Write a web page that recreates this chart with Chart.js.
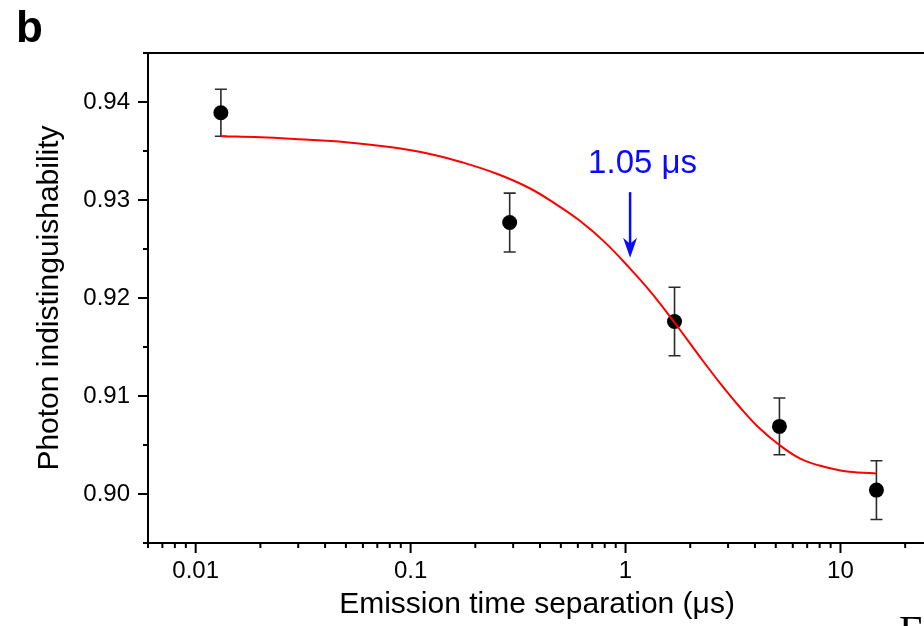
<!DOCTYPE html>
<html>
<head>
<meta charset="utf-8">
<script src="https://cdn.jsdelivr.net/npm/chart.js@4.4.1/dist/chart.umd.min.js"></script>
<style>
html, body { margin: 0; padding: 0; overflow: hidden; background: #fff; }
#wrap { position: relative; width: 940px; height: 626px; }
#fig { position: absolute; left: 899px; top: 610px; font: 42px 'Liberation Serif', 'DejaVu Serif', serif; line-height: 42px; color: #000; white-space: nowrap; }
</style>
</head>
<body>
<div id="wrap">
    <canvas id="chart"></canvas>
    <div id="fig">Fig.</div>
</div>
<script>
// Theme
const COLORS = {
    axis: '#000000',
    fit: '#ff0000',
    point: '#000000',
    err: '#2b2b2b',
    note: '#0a0aff'
};
const FONT = "'Liberation Sans', Arial, sans-serif";

// Axis ticks
const xMajorTicks = [0.01, 0.1, 1, 10];
const xTickLabels = ['0.01', '0.1', '1', '10'];
const xMinorTicks = [0.006, 0.007, 0.008, 0.009,
    0.02, 0.03, 0.04, 0.05, 0.06, 0.07, 0.08, 0.09,
    0.2, 0.3, 0.4, 0.5, 0.6, 0.7, 0.8, 0.9,
    2, 3, 4, 5, 6, 7, 8, 9, 20];
const yMajorTicks = [0.90, 0.91, 0.92, 0.93, 0.94];
const yTickLabels = ['0.90', '0.91', '0.92', '0.93', '0.94'];
const yMinorTicks = [0.895, 0.905, 0.915, 0.925, 0.935, 0.945];

// Measured points (emission time separation in us)
const ptX = [0.0131, 0.289, 1.69, 5.2, 14.7];
const ptY = [0.9389, 0.9277, 0.9176, 0.9069, 0.9004];
const ptErr = [0.0024, 0.0030, 0.0035, 0.0029, 0.0030];

// Fitted curve
const fitX = [0.0131, 0.02, 0.03, 0.05, 0.08, 0.123, 0.17, 0.25, 0.358, 0.48, 0.611, 0.8, 1.04, 1.3, 1.69,
    2.2, 2.8, 3.39, 4.2, 5.2, 6.5, 7.98, 10, 12, 14.7];
const fitY = [0.9365, 0.9364, 0.9362, 0.9359, 0.9354, 0.9347, 0.9339, 0.9327, 0.9312, 0.9295, 0.9279, 0.9257, 0.9231, 0.9207, 0.9175,
    0.9141, 0.9111, 0.9089, 0.9067, 0.9050, 0.9036, 0.9029, 0.9024, 0.9022, 0.9021];

// Annotation
const noteText = '1.05 μs';
const noteX = 1.2;
const noteY = 0.9328;
const arrowX = 1.05;
const arrowFrom = 0.9308;
const arrowTo = 0.9241;

const errorBars = {
    id: 'errorBars',
    beforeDatasetsDraw(chart) {
        const { ctx, scales: { x, y } } = chart;
        ctx.save();
        ctx.strokeStyle = COLORS.err;
        ctx.lineWidth = 1.6;
        ctx.beginPath();
        ptX.forEach((v, i) => {
            const px = x.getPixelForValue(v);
            const top = y.getPixelForValue(ptY[i] + ptErr[i]);
            const bot = y.getPixelForValue(ptY[i] - ptErr[i]);
            ctx.moveTo(px, top); ctx.lineTo(px, bot);
            ctx.moveTo(px - 6, top); ctx.lineTo(px + 6, top);
            ctx.moveTo(px - 6, bot); ctx.lineTo(px + 6, bot);
        });
        ctx.stroke();
        ctx.restore();
    }
};

const frame = {
    id: 'frame',
    afterDraw(chart) {
        const { ctx, chartArea: a, scales: { x, y } } = chart;
        ctx.save();
        ctx.strokeStyle = COLORS.axis;
        ctx.lineWidth = 2;
        ctx.beginPath();
        // top spine
        ctx.moveTo(a.left - 5, a.top); ctx.lineTo(a.right, a.top);
        xMajorTicks.forEach(v => {
            const px = x.getPixelForValue(v);
            ctx.moveTo(px, a.bottom); ctx.lineTo(px, a.bottom + 10);
        });
        xMinorTicks.forEach(v => {
            const px = x.getPixelForValue(v);
            ctx.moveTo(px, a.bottom); ctx.lineTo(px, a.bottom + 5);
        });
        yMajorTicks.forEach(v => {
            const py = y.getPixelForValue(v);
            ctx.moveTo(a.left, py); ctx.lineTo(a.left - 10, py);
        });
        yMinorTicks.forEach(v => {
            const py = y.getPixelForValue(v);
            ctx.moveTo(a.left, py); ctx.lineTo(a.left - 5, py);
        });
        ctx.stroke();

        // panel letter
        ctx.fillStyle = '#000';
        ctx.font = 'bold 44px ' + FONT;
        ctx.textAlign = 'left';
        ctx.textBaseline = 'alphabetic';
        ctx.fillText('b', 16, 42);
        ctx.restore();
    }
};

const annotation = {
    id: 'annotation',
    afterDatasetsDraw(chart) {
        const { ctx, scales: { x, y } } = chart;
        ctx.save();
        ctx.fillStyle = COLORS.note;
        ctx.strokeStyle = COLORS.note;
        ctx.font = '33px ' + FONT;
        ctx.textAlign = 'center';
        ctx.textBaseline = 'alphabetic';
        ctx.fillText(noteText, x.getPixelForValue(noteX), y.getPixelForValue(noteY));

        const ax = x.getPixelForValue(arrowX);
        const top = y.getPixelForValue(arrowFrom);
        const tip = y.getPixelForValue(arrowTo);
        ctx.lineWidth = 2.5;
        ctx.beginPath();
        ctx.moveTo(ax, top); ctx.lineTo(ax, tip - 12);
        ctx.stroke();
        ctx.beginPath();
        ctx.moveTo(ax, tip);
        ctx.lineTo(ax - 7, tip - 20);
        ctx.lineTo(ax, tip - 14);
        ctx.lineTo(ax + 7, tip - 20);
        ctx.closePath();
        ctx.fill();
        ctx.restore();
    }
};

const ctx = document.getElementById('chart').getContext('2d');

new Chart(ctx, {
    type: 'scatter',
    data: {
        datasets: [
            {
                label: 'Fit',
                data: fitX.map((v, i) => ({ x: v, y: fitY[i] })),
                showLine: true,
                borderColor: COLORS.fit,
                borderWidth: 2,
                pointRadius: 0,
                tension: 0.4,
                order: 0
            },
            {
                label: 'Data',
                data: ptX.map((v, i) => ({ x: v, y: ptY[i] })),
                pointRadius: 7.5,
                backgroundColor: COLORS.point,
                borderColor: COLORS.point,
                borderWidth: 0,
                order: 1
            }
        ]
    },
    options: {
        responsive: true,
        maintainAspectRatio: false,
        animation: false,
        layout: { padding: { top: 53, right: 14, left: 0, bottom: 0 } },
        scales: {
            x: {
                type: 'logarithmic',
                min: 0.006,
                max: 25,
                bounds: 'data',
                grid: { display: false, drawTicks: false },
                border: { display: true, color: COLORS.axis, width: 2 },
                afterBuildTicks: scale => { scale.ticks = xMajorTicks.map(v => ({ value: v })); },
                afterFit: scale => { scale.height = 83; },
                ticks: {
                    autoSkip: false,
                    maxRotation: 0,
                    padding: 14,
                    color: '#000',
                    font: { family: FONT, size: 24 },
                    callback: (value, index) => xTickLabels[index]
                },
                title: {
                    display: true,
                    text: 'Emission time separation (μs)',
                    color: '#000',
                    font: { family: FONT, size: 30 },
                    padding: { top: 0, bottom: 3 }
                }
            },
            y: {
                min: 0.895,
                max: 0.945,
                grid: { display: false, drawTicks: false },
                border: { display: true, color: COLORS.axis, width: 2 },
                afterBuildTicks: scale => { scale.ticks = yMajorTicks.map(v => ({ value: v })); },
                afterFit: scale => { scale.width = 148; },
                ticks: {
                    autoSkip: false,
                    padding: 18,
                    color: '#000',
                    font: { family: FONT, size: 24 },
                    callback: (value, index) => yTickLabels[index]
                },
                title: {
                    display: true,
                    text: 'Photon indistinguishability',
                    color: '#000',
                    font: { family: FONT, size: 30 },
                    padding: { top: 32, bottom: 0 }
                }
            }
        },
        plugins: {
            legend: { display: false },
            tooltip: { enabled: false }
        }
    },
    plugins: [errorBars, frame, annotation]
});
</script>
</body>
</html>
